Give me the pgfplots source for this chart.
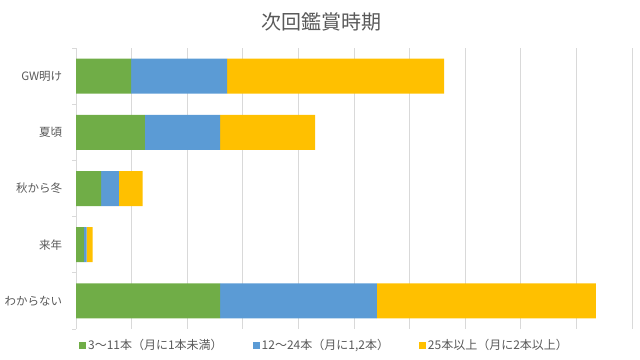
\documentclass[border=0pt]{standalone}
\usepackage{fontspec}
\setmainfont{Noto Sans CJK JP}
\usepackage{pgfplots}
\pgfplotsset{compat=1.18}
\definecolor{cgreen}{HTML}{70AD47}
\definecolor{cblue}{HTML}{5B9BD5}
\definecolor{cyellow}{HTML}{FFC000}
\definecolor{cgrid}{HTML}{D9D9D9}
\definecolor{ctext}{HTML}{595959}
\begin{document}
\begin{tikzpicture}
\path[use as bounding box] (0,0) rectangle (640bp,360bp);
\node[text=ctext,font=\fontsize{20bp}{23bp}\selectfont] at (321bp,338bp) {次回鑑賞時期};
\begin{axis}[
  at={(76bp,31bp)}, anchor=south west,
  scale only axis, width=556bp, height=281bp,
  xbar stacked, bar width=35bp,
  xmin=0, xmax=100, xtick={0,10,...,100}, xticklabels={},
  major x tick style={draw=none},
  xmajorgrids, grid style={cgrid, line width=0.8bp},
  ymin=-0.5, ymax=4.5, y dir=reverse,
  ytick={0,1,2,3,4},
  yticklabels={GW明け,夏頃,秋から冬,来年,わからない},
  major y tick style={draw=none},
  minor ytick={-0.5,0.5,1.5,2.5,3.5,4.5},
  minor y tick style={cgrid, line width=0.8bp},
  minor tick length=4bp, tick align=outside,
  axis x line*=bottom,
  x axis line style={draw=none},
  axis y line*=left,
  y axis line style={cgrid, line width=0.8bp, -},
  yticklabel style={text=ctext, font=\fontsize{11.5bp}{13bp}\selectfont, xshift=-6bp},
  legend columns=3,
  legend style={at={(0.447,-0.057)}, anchor=center, draw=none, fill=none,
    font=\fontsize{12bp}{14bp}\selectfont, text=ctext,
    /tikz/every even column/.append style={column sep=28bp}},
  legend image code/.code={\fill[#1] (0bp,-3.5bp) rectangle (7bp,3.5bp);},
]
\addplot[fill=cgreen, draw=none] coordinates {(9.9,0) (12.4,1) (4.5,2) (1.4,3) (25.9,4)};
\addplot[fill=cblue, draw=none] coordinates {(17.3,0) (13.5,1) (3.2,2) (0.5,3) (28.2,4)};
\addplot[fill=cyellow, draw=none] coordinates {(39.0,0) (17.1,1) (4.3,2) (1.1,3) (39.4,4)};
\legend{{3～11本（月に1本未満）},{12～24本（月に1,2本）},{25本以上（月に2本以上）}}
\end{axis}
\end{tikzpicture}
\end{document}
